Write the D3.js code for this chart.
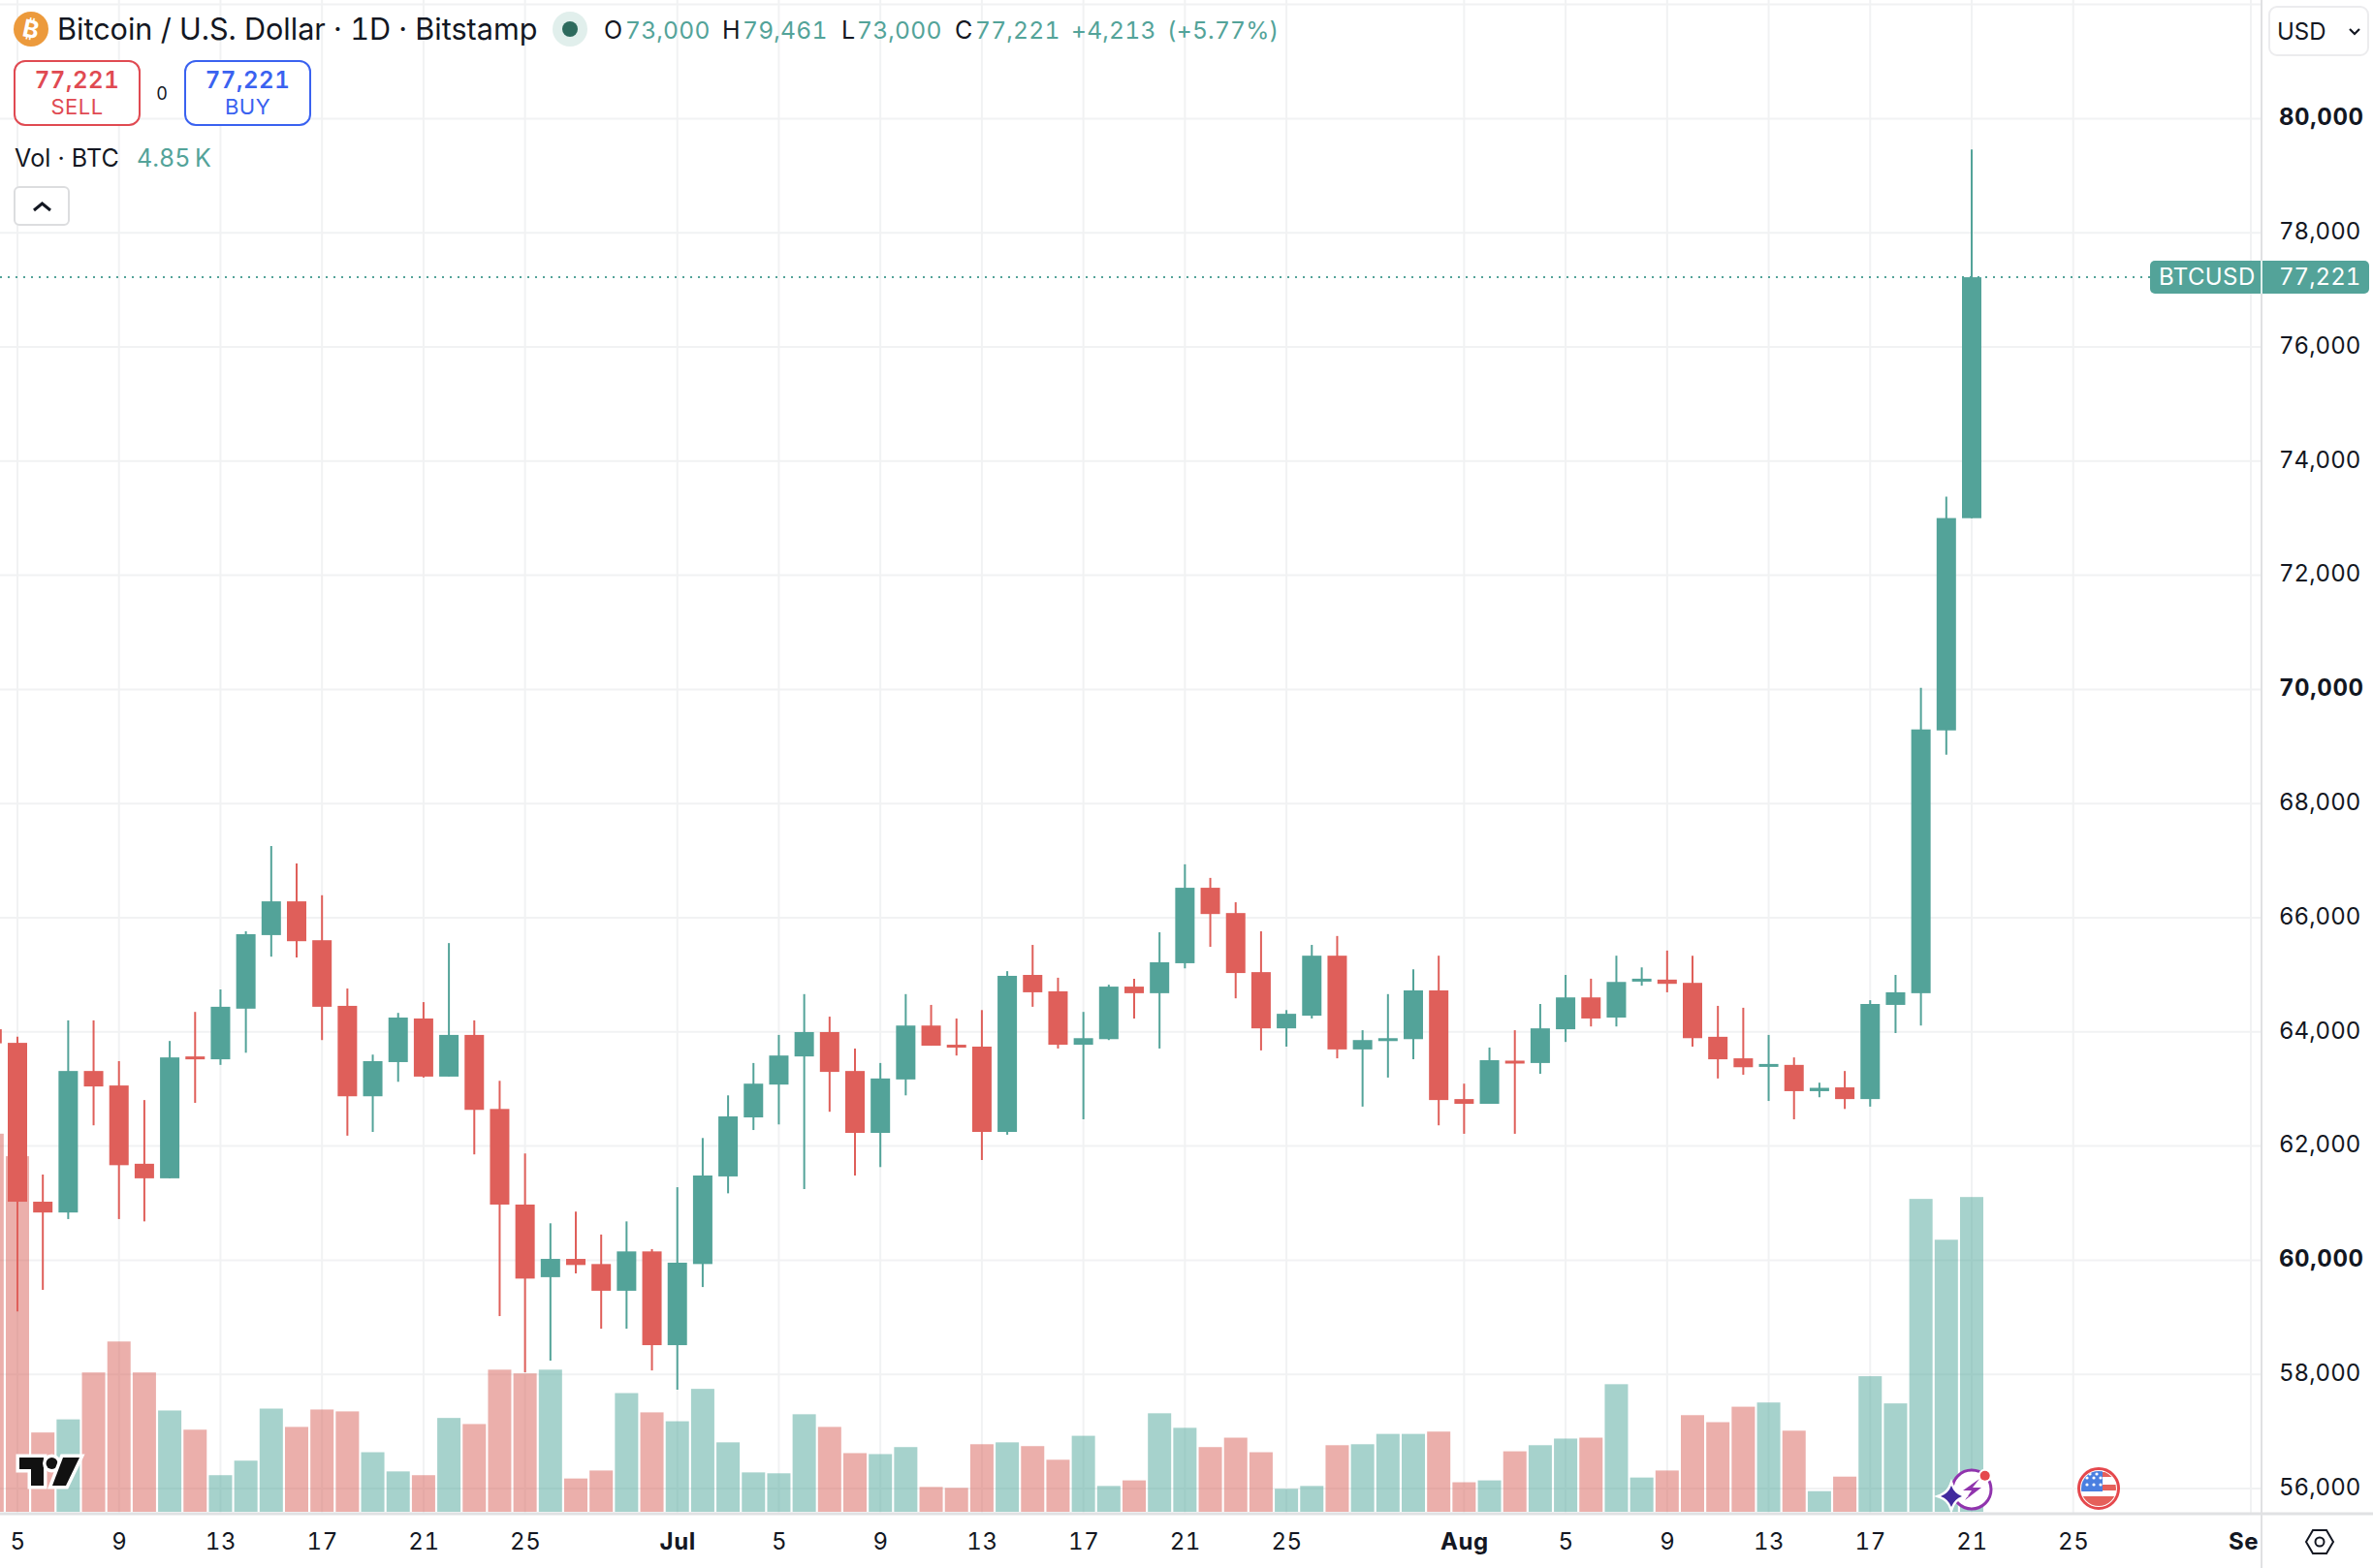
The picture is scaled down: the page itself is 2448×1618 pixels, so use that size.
<!DOCTYPE html>
<meta charset="utf-8">
<style>
html, body { margin: 0; background: #fff; }
svg { display: block; }
text { font-family: Inter, sans-serif; fill: #131722; font-variant-numeric: tabular-nums; }
</style>
<body>
<script src="https://cdn.jsdelivr.net/npm/d3@7"></script>
<script>

var width = 2448, height = 1618;

// one candle a day, first one is Jun 4
var firstDay = "2024-06-04";
var opens = [64046,63808,61025,60836,63315,63061,61690,61435,63570,63520,64407,65696,66287,65606,64456,62872,63471,64235,63217,63947,62650,60975,59703,60023,59933,59465,60154,58512,59933,61468,62502,
  63077,63570,63997,63315,62231,63167,64111,63775,63742,62248,64998,64711,63775,63873,64793,64678,65203,66525,66082,65047,64062,64284,65335,63693,63841,63873,64727,62823,
  62740,63496,63455,64046,64604,64251,64900,64916,64859,63914,63537,63405,63422,62962,63028,62823,64473,64678,69282,73000];
var highs = [64087,63914,61501,64202,64202,63488,62806,63841,64350,64744,65762,67256,66952,66394,64760,63602,64333,64522,65556,64202,63143,61870,60647,60852,60450,60680,60195,61279,62141,62888,63455,
  63947,64662,64267,63709,63455,64662,64473,64235,64382,65064,65524,64949,64350,64826,64932,65745,66936,66698,66271,65762,64382,65524,65680,64029,64662,65097,65335,63093,
  63726,64029,64489,64998,64932,65335,65130,65425,65335,64456,64423,63947,63553,63110,63315,64555,64998,70029,73375,79461];
var lows = [63758,59103,59481,60721,62363,60721,60680,61435,62757,63422,63635,65318,65302,63857,62182,62248,63126,63200,63217,61854,59021,58036,58241,59768,58800,58800,58069,57732,59530,61172,62281,
  62379,61246,62601,61484,61632,62888,63758,63586,61755,62199,64440,63709,62469,63857,64235,63709,65113,65491,64588,63676,63742,64235,63537,62691,63200,63520,62363,62215,
  62740,62215,63266,63824,64095,64095,64809,64694,63742,63184,63249,62790,62469,62855,62650,62691,63980,64112,68857,73000];
var closes = [63800,61025,60836,63315,63044,61665,61435,63553,63537,64440,65712,66287,65589,64440,62872,63488,64251,63217,63947,62634,60975,59678,60023,59916,59465,60154,58512,59957,61484,62519,63093,
  63586,63997,63299,62231,63184,64111,63758,63726,62248,64982,64694,63775,63890,64793,64678,65220,66525,66065,65031,64062,64317,65335,63693,63857,63890,64727,62806,62740,
  63504,63455,64062,64604,64235,64875,64932,64842,63890,63520,63381,63438,62962,63020,62823,64489,64694,69299,73002,77221];
var volumes = [5826,5479,1222,1424,2147,2624,2147,1561,1265,564,788,1590,1308,1576,1547,918,622,564,1446,1352,2190,2132,2190,513,636,1829,1532,1395,1894,1070,607,
  593,1503,1308,904,889,997,383,369,1041,1070,1012,802,1171,398,484,1518,1294,997,1142,918,354,398,1026,1041,1200,1200,1236,455,
  484,932,1026,1128,1142,1966,528,636,1489,1381,1619,1684,1250,318,542,2089,1670,4821,4192,4850];

var priceTicks = [56000,58000,60000,62000,64000,66000,68000,70000,72000,74000,76000,78000,80000,82000];
var boldPrices = [60000,70000,80000];
var dateTicks = ["2024-06-05","2024-06-09","2024-06-13","2024-06-17","2024-06-21","2024-06-25",
  "2024-07-01","2024-07-05","2024-07-09","2024-07-13","2024-07-17","2024-07-21","2024-07-25",
  "2024-08-01","2024-08-05","2024-08-09","2024-08-13","2024-08-17","2024-08-21","2024-08-25","2024-09-01"];
var lastPrice = 77221;

var upColor = "#53a399", downColor = "#df5f5a", gridColor = "#f1f2f3", lineColor = "#e0e1e3";
var upVolColor = "#4da59a", downVolColor = "#d85f58";

var days = opens.map(function(d, i) {
  return d3.utcDay.offset(new Date(firstDay), i);
});

var x = d3.scaleUtc().domain([new Date("2024-06-05"), new Date("2024-08-21")]).range([18, 2034]);
var y = d3.scaleLinear().domain([56000, 80000]).range([1536, 122.4]);
var yVol = d3.scaleLinear().domain([0, 4850]).range([1560, 1235.2]);

var svg = d3.select("body").append("svg")
    .attr("width", width)
    .attr("height", height)
    .attr("viewBox", "0 0 " + width + " " + height);

// grid
var defs = svg.append("defs");
defs.append("clipPath").attr("id", "pane").append("rect")
  .attr("width", 2332).attr("height", 1561);
defs.append("clipPath").attr("id", "timeclip").append("rect")
  .attr("y", 1563).attr("width", 2331).attr("height", 55);

var grid = svg.append("g").attr("clip-path", "url(#pane)");
grid.selectAll(".h").data(priceTicks).enter().append("line")
  .attr("x1", 0).attr("x2", 2332)
  .attr("y1", function(d) { return y(d); })
  .attr("y2", function(d) { return y(d); })
  .attr("stroke", gridColor).attr("stroke-width", 2);
grid.selectAll(".v").data(dateTicks).enter().append("line")
  .attr("y1", 0).attr("y2", 1561)
  .attr("x1", function(d) { return x(new Date(d)); })
  .attr("x2", function(d) { return x(new Date(d)); })
  .attr("stroke", gridColor).attr("stroke-width", 2);

// volume
var pane = svg.append("g").attr("clip-path", "url(#pane)");
pane.selectAll(".vol").data(days).enter().append("rect")
  .attr("x", function(d) { return x(d) - 12; })
  .attr("width", 24)
  .attr("y", function(d, i) { return yVol(volumes[i]); })
  .attr("height", function(d, i) { return yVol(0) - yVol(volumes[i]); })
  .attr("fill", function(d, i) { return closes[i] >= opens[i] ? upVolColor : downVolColor; })
  .attr("fill-opacity", 0.5);

// last price line
pane.append("line")
  .attr("x1", 0).attr("x2", 2218)
  .attr("y1", y(lastPrice)).attr("y2", y(lastPrice))
  .attr("stroke", upColor).attr("stroke-width", 2).attr("stroke-dasharray", "2,6");

// candles
pane.selectAll(".wick").data(days).enter().append("line")
  .attr("x1", function(d) { return x(d); })
  .attr("x2", function(d) { return x(d); })
  .attr("y1", function(d, i) { return y(highs[i]); })
  .attr("y2", function(d, i) { return y(lows[i]); })
  .attr("stroke", function(d, i) { return closes[i] >= opens[i] ? upColor : downColor; })
  .attr("stroke-width", 2);
pane.selectAll(".body").data(days).enter().append("rect")
  .attr("x", function(d) { return x(d) - 10; })
  .attr("width", 20)
  .attr("y", function(d, i) { return y(Math.max(opens[i], closes[i])); })
  .attr("height", function(d, i) { return Math.max(3, Math.abs(y(opens[i]) - y(closes[i]))); })
  .attr("fill", function(d, i) { return closes[i] >= opens[i] ? upColor : downColor; });

// axis borders
svg.append("line").attr("x1", 0).attr("x2", width).attr("y1", 1562).attr("y2", 1562)
  .attr("stroke", lineColor).attr("stroke-width", 3);
svg.append("line").attr("x1", 2333).attr("x2", 2333).attr("y1", 0).attr("y2", height)
  .attr("stroke", lineColor).attr("stroke-width", 2);

// price axis
var yAxis = d3.axisRight(y)
  .tickValues(priceTicks.slice(0, -1))
  .tickSize(0)
  .tickPadding(0)
  .tickFormat(d3.format(","));
var yAxisG = svg.append("g").attr("transform", "translate(2351,0)").call(yAxis);
yAxisG.select(".domain").remove();
yAxisG.selectAll("text")
  .attr("x", 0).attr("dy", "0.26em")
  .style("font-size", "24px")
  .style("letter-spacing", function(d) { return boldPrices.indexOf(d) >= 0 ? "0.6px" : "0"; })
  .style("font-weight", function(d) { return boldPrices.indexOf(d) >= 0 ? 700 : 400; });

// time axis
var monthName = d3.utcFormat("%b");
var xAxis = d3.axisBottom(x)
  .tickValues(dateTicks.map(function(d) { return new Date(d); }))
  .tickSize(0)
  .tickPadding(0)
  .tickFormat(function(d) { return d.getUTCDate() == 1 ? monthName(d) : d.getUTCDate(); });
var xAxisG = svg.append("g").attr("clip-path", "url(#timeclip)")
  .append("g").attr("transform", "translate(0,1590.5)").call(xAxis);
xAxisG.select(".domain").remove();
xAxisG.selectAll("text")
  .attr("y", 0).attr("dy", "0.36em")
  .style("font-size", "24px").style("letter-spacing", "0.6px")
  .style("font-weight", function(d) { return d.getUTCDate() == 1 ? 700 : 400; });

// last price tags
svg.append("path")
  .attr("d", "M2223 269H2439a5 5 0 0 1 5 5V298a5 5 0 0 1 -5 5H2223a5 5 0 0 1 -5 -5V274a5 5 0 0 1 5 -5Z")
  .attr("fill", upColor);
svg.append("line").attr("x1", 2333).attr("x2", 2333).attr("y1", 269).attr("y2", 303)
  .attr("stroke", "#e0f0ed").attr("stroke-width", 2);
svg.append("text").attr("x", 2227).attr("y", 294).text("BTCUSD")
  .style("fill", "#fff").style("font-size", "24px").style("letter-spacing", "0.4px");
svg.append("text").attr("x", 2351).attr("y", 294).text(d3.format(",")(lastPrice))
  .style("fill", "#fff").style("font-size", "24px");

function label(px, py, str, size, color, weight, anchor, spacing) {
  return svg.append("text").attr("x", px).attr("y", py).text(str)
    .attr("text-anchor", anchor || "start")
    .style("font-size", size + "px")
    .style("fill", color || "#131722")
    .style("font-weight", weight || 400)
    .style("letter-spacing", (spacing || 0) + "px");
}

// legend
svg.append("circle").attr("cx", 32).attr("cy", 30).attr("r", 18).attr("fill", "#ec9a3c");
label(32, 39, "₿", 25, "#fff", 700, "middle").attr("transform", "rotate(12 32 30)");
label(59, 41, "Bitcoin / U.S. Dollar · 1D · Bitstamp", 30.6);
svg.append("circle").attr("cx", 588).attr("cy", 30).attr("r", 18).attr("fill", "#e1efec");
svg.append("circle").attr("cx", 588).attr("cy", 30).attr("r", 8).attr("fill", "#2d6a5d");
var legendItems = [[623, "O", 645, "73,000"], [745, "H", 766, "79,461"], [868, "L", 884, "73,000"], [985, "C", 1006, "77,221"]];
legendItems.forEach(function(d) {
  label(d[0], 40, d[1], 25);
  label(d[2], 40, d[3], 24.6, upColor, 400, "start", 0.2);
});
label(1105, 40, "+4,213", 24.6, upColor, 400, "start", 0.2);
label(1204, 40, "(+5.77%)", 24.6, upColor, 400, "start", 0.2);

// sell / buy buttons
var sellColor = "#e04a52", buyColor = "#3a62f0";
svg.append("rect").attr("x", 15).attr("y", 63).attr("width", 129).attr("height", 66).attr("rx", 11)
  .attr("fill", "#fff").attr("stroke", sellColor).attr("stroke-width", 2);
svg.append("rect").attr("x", 191).attr("y", 63).attr("width", 129).attr("height", 66).attr("rx", 11)
  .attr("fill", "#fff").attr("stroke", buyColor).attr("stroke-width", 2);
label(79.5, 91, "77,221", 24, sellColor, 600, "middle", 0.6);
label(79.5, 118, "SELL", 22, sellColor, 400, "middle", 0.5);
label(255.5, 91, "77,221", 24, buyColor, 600, "middle", 0.6);
label(255.5, 118, "BUY", 22, buyColor, 400, "middle", 0.5);
label(167, 103, "0", 18, "#131722", 400, "middle");

label(15, 172, "Vol · BTC", 25, "#131722", 400, "start", 0.2);
label(141, 172, "4.85\u2009K", 25, upColor);

svg.append("rect").attr("x", 15).attr("y", 193).attr("width", 56).attr("height", 39).attr("rx", 5)
  .attr("fill", "#fff").attr("stroke", "#dcdddf").attr("stroke-width", 2);
svg.append("path").attr("d", "M35 217L43.5 210L52 217").attr("fill", "none")
  .attr("stroke", "#131722").attr("stroke-width", 3);

// currency button
svg.append("rect").attr("x", 2341).attr("y", 7).attr("width", 102).attr("height", 50).attr("rx", 8)
  .attr("fill", "#fff").attr("stroke", "#ececee").attr("stroke-width", 2);
label(2349, 41, "USD", 24);
svg.append("path").attr("d", "M2424 30L2429 35L2434 30").attr("fill", "none")
  .attr("stroke", "#131722").attr("stroke-width", 2.2);

// settings hexagon
svg.append("path").attr("d", "M2379 1591L2386 1579H2400L2407 1591L2400 1603H2386Z").attr("fill", "none")
  .attr("stroke", "#131722").attr("stroke-width", 2);
svg.append("circle").attr("cx", 2393).attr("cy", 1591).attr("r", 4.5).attr("fill", "none")
  .attr("stroke", "#131722").attr("stroke-width", 2);

// tv logo
var tv = svg.append("g").attr("fill", "#111").attr("stroke", "#fff").attr("stroke-width", 7)
  .attr("stroke-linejoin", "miter").style("paint-order", "stroke");
tv.append("path").attr("d", "M20 1504H45V1533H32V1516H20Z");
tv.append("circle").attr("cx", 53.5).attr("cy", 1510).attr("r", 6);
tv.append("path").attr("d", "M65 1504H82L68 1533H54Z");

// event icons
svg.append("circle").attr("cx", 2034).attr("cy", 1537).attr("r", 21).attr("fill", "#fff");
svg.append("circle").attr("cx", 2034).attr("cy", 1537).attr("r", 20).attr("fill", "none")
  .attr("stroke", "#9034ad").attr("stroke-width", 3);
svg.append("path").attr("d", "M2042 1526L2025 1538H2034L2027 1548L2044 1535H2035Z").attr("fill", "#9034ad");
svg.append("circle").attr("cx", 2047.7).attr("cy", 1522.7).attr("r", 7).attr("fill", "#fff");
svg.append("circle").attr("cx", 2047.7).attr("cy", 1522.7).attr("r", 5).attr("fill", "#e5484d");
svg.append("path").attr("d", "M2013 1533Q2016 1541 2024 1544Q2016 1547 2013 1555Q2010 1547 2002 1544Q2010 1541 2013 1533Z")
  .attr("fill", "#412a9e").attr("stroke", "#fff").attr("stroke-width", 5).style("paint-order", "stroke");

var flag = svg.append("g");
svg.append("clipPath").attr("id", "flagclip").append("circle")
  .attr("cx", 2165).attr("cy", 1536).attr("r", 18);
flag.append("circle").attr("cx", 2165).attr("cy", 1536).attr("r", 20.5).attr("fill", "#fff")
  .attr("stroke", "#e5484d").attr("stroke-width", 3);
var flagIn = flag.append("g").attr("clip-path", "url(#flagclip)");
flagIn.append("rect").attr("x", 2145).attr("y", 1516).attr("width", 40).attr("height", 40).attr("fill", "#fff");
flagIn.append("rect").attr("x", 2169).attr("y", 1519).attr("width", 16).attr("height", 5).attr("fill", "#e5605a");
flagIn.append("rect").attr("x", 2169).attr("y", 1532).attr("width", 16).attr("height", 6).attr("fill", "#e5605a");
flagIn.append("rect").attr("x", 2145).attr("y", 1544).attr("width", 40).attr("height", 12).attr("fill", "#e5605a");
flagIn.append("rect").attr("x", 2145).attr("y", 1516).attr("width", 24).attr("height", 23).attr("fill", "#4a7fe0");
[[2153,1525],[2160,1525],[2167,1525],[2153,1532],[2160,1532],[2167,1532],[2156,1521],[2163,1521]].forEach(function(p) {
  flagIn.append("circle").attr("cx", p[0]).attr("cy", p[1]).attr("r", 1.6).attr("fill", "#fff");
});

</script>
</body>
